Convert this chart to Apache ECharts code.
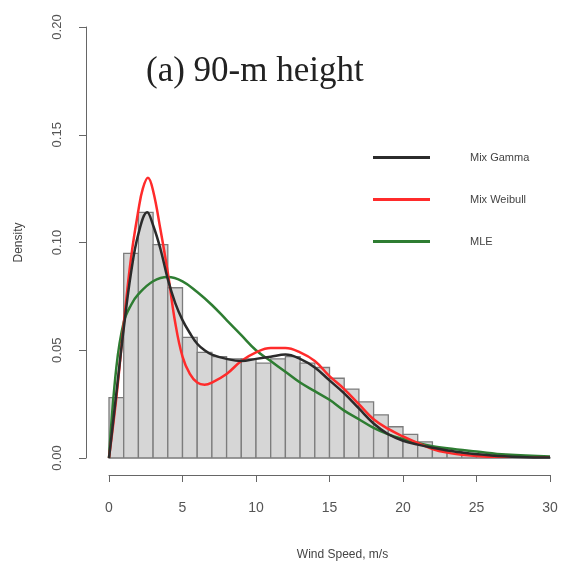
<!DOCTYPE html>
<html lang="en">
<head>
    <meta charset="UTF-8">
    <title>Wind speed density</title>
    <script src="https://cdn.jsdelivr.net/npm/echarts@6/dist/echarts.min.js"></script>
    <style>
        html, body { margin: 0; padding: 0; background: #fff; }
        #main { width: 574px; height: 563px; }
    </style>
</head>
<body>
<div id="main"></div>
<script>
    // histogram: bin left edges (width 1 m/s) and densities
    var binStart = [0, 1, 2, 3, 4, 5, 6, 7, 8, 9, 10, 11, 12, 13, 14,
        15, 16, 17, 18, 19, 20, 21, 22, 23, 24, 25, 26, 27, 28, 29];
    var binDensity = [0.028, 0.095, 0.114, 0.099, 0.079, 0.056, 0.049, 0.047, 0.046, 0.046,
        0.044, 0.046, 0.047, 0.044, 0.042, 0.037, 0.032, 0.026, 0.020, 0.0145,
        0.011, 0.0075, 0.0045, 0.003, 0.002, 0.0013, 0.0008, 0.0005, 0.0003, 0.0002];

    // fitted curves
    var gammaX = [0, 0.5, 1, 1.5, 2, 2.6, 3, 3.5, 4, 4.5, 5, 5.5, 6, 6.5, 7, 8, 9, 10,
        11, 12, 13, 14, 15, 16, 17, 18, 19, 20, 21, 22, 24, 26, 28, 30];
    var gammaY = [0, 0.03, 0.06, 0.086, 0.104, 0.114, 0.108, 0.097, 0.083, 0.072, 0.064,
        0.058, 0.053, 0.050, 0.048, 0.046, 0.045, 0.046, 0.047, 0.048, 0.046, 0.042, 0.036,
        0.030, 0.023, 0.016, 0.011, 0.008, 0.0062, 0.0048, 0.0025, 0.0012, 0.0005, 0.0002];

    var weibullX = [0, 0.5, 1, 1.5, 2, 2.3, 2.65, 3, 3.5, 4, 4.5, 5, 5.5, 6, 6.5, 7, 8, 9, 10,
        11, 12, 13, 14, 15, 16, 17, 18, 19, 20, 21, 22, 23, 24, 26, 28, 30];
    var weibullY = [0, 0.028, 0.062, 0.093, 0.115, 0.125, 0.130, 0.124, 0.106, 0.086, 0.063,
        0.047, 0.039, 0.035, 0.034, 0.035, 0.039, 0.045, 0.049, 0.051, 0.051, 0.049, 0.045,
        0.038, 0.032, 0.025, 0.018, 0.0135, 0.010, 0.007, 0.0042, 0.0025, 0.0015, 0.0005,
        0.0002, 0.0001];

    var mleX = [0, 0.5, 1, 1.5, 2, 3, 4, 5, 6, 7, 8, 9, 10, 11, 12, 13, 14, 15, 16, 17, 18,
        19, 20, 21, 22, 23, 25, 27, 30];
    var mleY = [0, 0.042, 0.063, 0.071, 0.076, 0.082, 0.084, 0.082, 0.077, 0.071, 0.064, 0.057,
        0.050, 0.045, 0.040, 0.035, 0.031, 0.027, 0.022, 0.018, 0.014, 0.011, 0.0088, 0.007,
        0.0055, 0.0045, 0.003, 0.0016, 0.0007];

    var yTicks = [0, 0.05, 0.10, 0.15, 0.20];
    var xTicks = [0, 5, 10, 15, 20, 25, 30];

    function pairs(xs, ys) {
        var out = [];
        for (var i = 0; i < xs.length; i++) out.push([xs[i], ys[i]]);
        return out;
    }

    var histData = [];
    for (var i = 0; i < binStart.length; i++) {
        histData.push([binStart[i], binStart[i] + 1, binDensity[i]]);
    }

    var labelFont = 'Liberation Sans, Arial, sans-serif';
    var chart = echarts.init(document.getElementById('main'));
    var option = {
        animation: false,
        backgroundColor: '#fff',
        title: {
            text: '(a) 90-m height',
            left: 141,
            top: 49,
            textStyle: {
                fontFamily: 'Liberation Serif, Times New Roman, serif',
                fontWeight: 'normal',
                fontSize: 35,
                color: '#222'
            }
        },
        legend: {
            orient: 'vertical',
            left: 368,
            top: 147,
            itemWidth: 57,
            itemHeight: 3,
            itemGap: 31,
            icon: 'rect',
            data: ['Mix Gamma', 'Mix Weibull', 'MLE'],
            textStyle: {
                fontFamily: labelFont,
                fontSize: 11,
                color: '#444',
                padding: [0, 0, 0, 35]
            }
        },
        grid: { left: 109, right: 24, top: 27, bottom: 105, outerBoundsMode: 'none' },
        xAxis: {
            type: 'value',
            min: xTicks[0],
            max: xTicks[xTicks.length - 1],
            interval: 5,
            offset: 17,
            name: 'Wind Speed, m/s',
            nameLocation: 'middle',
            nameGap: 74,
            nameTextStyle: { fontFamily: labelFont, fontSize: 12, color: '#444', padding: [0, 0, 0, 26] },
            axisLine: { show: true, onZero: false, lineStyle: { color: '#666', width: 1 } },
            axisTick: { show: true, length: 7, lineStyle: { color: '#666' } },
            axisLabel: { fontFamily: labelFont, fontSize: 14, color: '#555', margin: 26 },
            splitLine: { show: false }
        },
        yAxis: {
            type: 'value',
            min: yTicks[0],
            max: yTicks[yTicks.length - 1],
            interval: 0.05,
            offset: 23,
            name: 'Density',
            nameLocation: 'middle',
            nameGap: 61,
            nameTextStyle: { fontFamily: labelFont, fontSize: 12, color: '#444' },
            axisLine: { show: true, onZero: false, lineStyle: { color: '#666', width: 1 } },
            axisTick: { show: true, length: 7, lineStyle: { color: '#666' } },
            axisLabel: {
                fontFamily: labelFont, fontSize: 13, color: '#555', rotate: 90, margin: 22,
                formatter: function (v) { return v.toFixed(2); }
            },
            splitLine: { show: false }
        },
        series: [
            {
                type: 'custom',
                name: 'hist',
                data: histData,
                encode: { x: [0, 1], y: 2 },
                renderItem: function (params, api) {
                    var p0 = api.coord([api.value(0), 0]);
                    var p1 = api.coord([api.value(1), api.value(2)]);
                    return {
                        type: 'rect',
                        shape: { x: p0[0], y: p1[1], width: p1[0] - p0[0], height: p0[1] - p1[1] },
                        style: { fill: '#d6d6d6', stroke: '#7c7c7c', lineWidth: 1.3 }
                    };
                },
                markLine: {
                    silent: true,
                    symbol: 'none',
                    label: { show: false },
                    lineStyle: { color: '#999', type: 'solid', width: 1 },
                    data: [{ yAxis: 0 }]
                },
                z: 1
            },
            {
                type: 'line', name: 'MLE', data: pairs(mleX, mleY),
                smooth: 0.4, showSymbol: false, color: '#2e7d32',
                lineStyle: { width: 2.5, color: '#2e7d32' }, z: 3
            },
            {
                type: 'line', name: 'Mix Weibull', data: pairs(weibullX, weibullY),
                smooth: 0.4, showSymbol: false, color: '#ff2b2b',
                lineStyle: { width: 2.5, color: '#ff2b2b' }, z: 4
            },
            {
                type: 'line', name: 'Mix Gamma', data: pairs(gammaX, gammaY),
                smooth: 0.4, showSymbol: false, color: '#2b2b2b',
                lineStyle: { width: 2.5, color: '#2b2b2b' }, z: 5
            }
        ]
    };
    chart.setOption(option);
</script>
</body>
</html>
